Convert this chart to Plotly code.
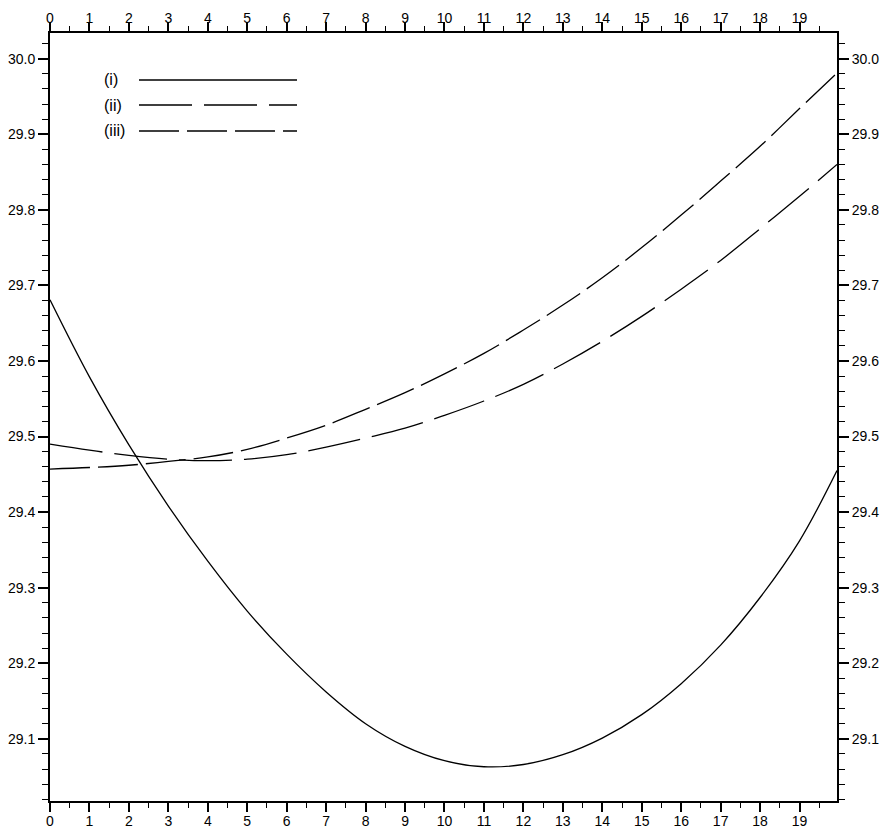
import plotly.graph_objects as go

# Abscissa positions (the last one sits at the right edge of the frame)
x_pos = [0, 1, 2, 3, 4, 5, 6, 7, 8, 9, 10, 11, 12, 13, 14, 15, 16, 17, 18, 19, 19.95]

# Curve (i): solid
curve_i = [29.681, 29.579, 29.489, 29.408, 29.335, 29.269, 29.212, 29.162, 29.120,
           29.090, 29.071, 29.063, 29.066, 29.079, 29.101, 29.132, 29.173, 29.224,
           29.287, 29.362, 29.455]

# Curve (ii): long dashes
curve_ii = [29.490, 29.482, 29.475, 29.470, 29.468, 29.470, 29.476, 29.486, 29.498,
            29.511, 29.528, 29.547, 29.569, 29.596, 29.626, 29.659, 29.695, 29.733,
            29.775, 29.818, 29.860]

# Curve (iii): shorter dashes
curve_iii = [29.457, 29.459, 29.462, 29.467, 29.473, 29.483, 29.498, 29.515, 29.536,
             29.558, 29.583, 29.610, 29.641, 29.674, 29.710, 29.750, 29.793, 29.838,
             29.884, 29.934, 29.981]

series_labels = ["(i)", "(ii)", "(iii)"]
x_tick_vals = list(range(0, 20))
y_tick_vals = [29.1, 29.2, 29.3, 29.4, 29.5, 29.6, 29.7, 29.8, 29.9, 30.0]

X_RANGE = [0, 19.95]
Y_RANGE = [29.0177, 30.034]

FONT = "Liberation Sans, Arial, Helvetica, sans-serif"
dashes = ["solid", "53px,12px", "40px,8px"]

fig = go.Figure()
for ys, dash in zip([curve_i, curve_ii, curve_iii], dashes):
    fig.add_trace(go.Scatter(
        x=x_pos, y=ys, mode="lines",
        line=dict(color="black", width=1.3, dash=dash, shape="spline", smoothing=1.0),
        showlegend=False, hoverinfo="skip",
    ))

# empty trace so the mirrored (top/right) axes are rendered with labels
fig.add_trace(go.Scatter(x=[], y=[], xaxis="x2", yaxis="y2", showlegend=False))

common_x = dict(
    range=X_RANGE, tickmode="array", tickvals=x_tick_vals,
    showline=True, linecolor="black", linewidth=1.8,
    ticks="outside", ticklen=9, tickwidth=1.5, tickcolor="black",
    automargin=False,
    minor=dict(ticks="outside", tick0=0, dtick=0.5, ticklen=5, tickwidth=1.3, tickcolor="black"),
    showgrid=False, zeroline=False,
    tickfont=dict(family=FONT, size=14, color="black"),
)
common_y = dict(
    range=Y_RANGE, tickmode="array", tickvals=y_tick_vals, tickformat=".1f",
    showline=True, linecolor="black", linewidth=1.8,
    ticks="outside", ticklen=10, tickwidth=1.5, tickcolor="black",
    automargin=False,
    minor=dict(ticks="outside", tick0=29.0, dtick=0.02, ticklen=6, tickwidth=1.3, tickcolor="black"),
    showgrid=False, zeroline=False,
    tickfont=dict(family=FONT, size=14, color="black"),
)

fig.update_layout(
    width=881, height=834,
    margin=dict(l=50, r=44, t=33, b=33),
    paper_bgcolor="white", plot_bgcolor="white",
    xaxis=dict(**common_x, side="bottom", anchor="y", ticklabelstandoff=-3),
    xaxis2=dict(**common_x, side="top", overlaying="x", anchor="y", ticklabelstandoff=-6),
    yaxis=dict(**common_y, side="left", anchor="x"),
    yaxis2=dict(**common_y, side="right", overlaying="y", anchor="x"),
    showlegend=False,
)

# Key in the upper-left corner: label text plus a long line sample
plot_w, plot_h = 881 - 50 - 44, 834 - 33 - 33
key_rows_px = [80, 105, 131]
for label, dash, row in zip(series_labels, dashes, key_rows_px):
    yp = (834 - 33 - row) / plot_h
    fig.add_shape(type="line", xref="paper", yref="paper",
                  x0=(139 - 50) / plot_w, x1=(297 - 50) / plot_w, y0=yp, y1=yp,
                  line=dict(color="black", width=1.3, dash=dash))
    fig.add_annotation(xref="paper", yref="paper", x=(102 - 50) / plot_w, y=yp,
                       text=label, showarrow=False, xanchor="left", yanchor="middle",
                       font=dict(family=FONT, size=16, color="black"))

fig.write_html("out.html")
